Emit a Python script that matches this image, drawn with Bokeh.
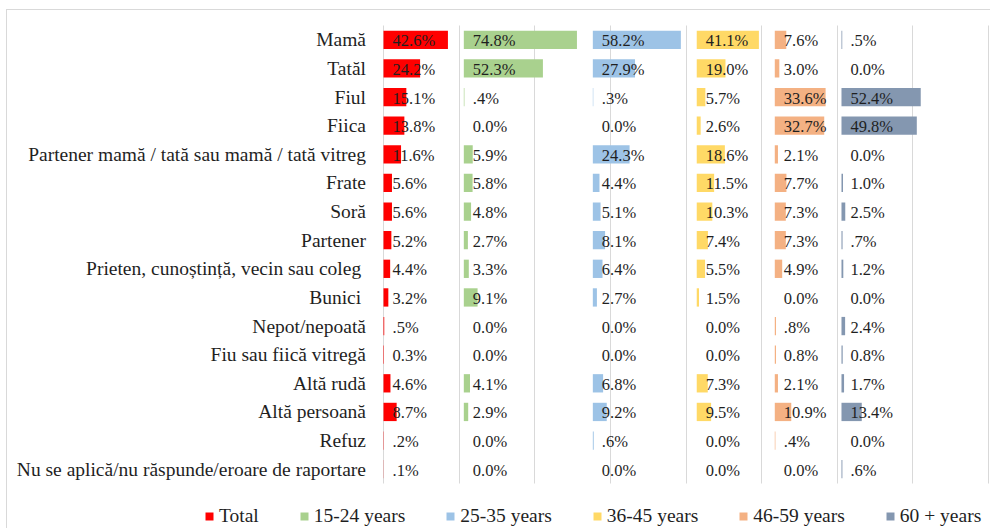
from bokeh.plotting import figure
from bokeh.models import (ColumnDataSource, Range1d, Grid,
                          SingleIntervalTicker, Legend, LegendItem)
from bokeh.core.properties import value
from bokeh.embed import file_html
from bokeh.resources import INLINE

categories = ["Mamă", "Tatăl", "Fiul", "Fiica",
              "Partener mamă / tată sau mamă / tată vitreg", "Frate", "Soră",
              "Partener", "Prieten, cunoștință,  vecin sau coleg", "Bunici ",
              "Nepot/nepoată", "Fiu sau fiică vitregă", "Altă rudă",
              "Altă persoană", "Refuz",
              "Nu se aplică/nu răspunde/eroare de raportare"]

series_names = ["Total", "15-24 years", "25-35 years", "36-45 years",
                "46-59 years", "60 + years"]

total = [42.6, 24.2, 15.1, 13.8, 11.6, 5.6, 5.6, 5.2, 4.4, 3.2, 0.5, 0.3, 4.6, 8.7, 0.2, 0.1]
age_15_24 = [74.8, 52.3, 0.4, 0.0, 5.9, 5.8, 4.8, 2.7, 3.3, 9.1, 0.0, 0.0, 4.1, 2.9, 0.0, 0.0]
age_25_35 = [58.2, 27.9, 0.3, 0.0, 24.3, 4.4, 5.1, 8.1, 6.4, 2.7, 0.0, 0.0, 6.8, 9.2, 0.6, 0.0]
age_36_45 = [41.1, 19.0, 5.7, 2.6, 18.6, 11.5, 10.3, 7.4, 5.5, 1.5, 0.0, 0.0, 7.3, 9.5, 0.0, 0.0]
age_46_59 = [7.6, 3.0, 33.6, 32.7, 2.1, 7.7, 7.3, 7.3, 4.9, 0.0, 0.8, 0.8, 2.1, 10.9, 0.4, 0.0]
age_60 = [0.5, 0.0, 52.4, 49.8, 0.0, 1.0, 2.5, 0.7, 1.2, 0.0, 2.4, 0.8, 1.7, 13.4, 0.0, 0.6]

labels_total = ["42.6%", "24.2%", "15.1%", "13.8%", "11.6%", "5.6%", "5.6%", "5.2%", "4.4%", "3.2%", ".5%", "0.3%", "4.6%", "8.7%", ".2%", ".1%"]
labels_15_24 = ["74.8%", "52.3%", ".4%", "0.0%", "5.9%", "5.8%", "4.8%", "2.7%", "3.3%", "9.1%", "0.0%", "0.0%", "4.1%", "2.9%", "0.0%", "0.0%"]
labels_25_35 = ["58.2%", "27.9%", ".3%", "0.0%", "24.3%", "4.4%", "5.1%", "8.1%", "6.4%", "2.7%", "0.0%", "0.0%", "6.8%", "9.2%", ".6%", "0.0%"]
labels_36_45 = ["41.1%", "19.0%", "5.7%", "2.6%", "18.6%", "11.5%", "10.3%", "7.4%", "5.5%", "1.5%", "0.0%", "0.0%", "7.3%", "9.5%", "0.0%", "0.0%"]
labels_46_59 = ["7.6%", "3.0%", "33.6%", "32.7%", "2.1%", "7.7%", "7.3%", "7.3%", "4.9%", "0.0%", ".8%", "0.8%", "2.1%", "10.9%", ".4%", "0.0%"]
labels_60 = [".5%", "0.0%", "52.4%", "49.8%", "0.0%", "1.0%", "2.5%", ".7%", "1.2%", "0.0%", "2.4%", "0.8%", "1.7%", "13.4%", "0.0%", ".6%"]

all_values = [total, age_15_24, age_25_35, age_36_45, age_46_59, age_60]
all_labels = [labels_total, labels_15_24, labels_25_35, labels_36_45, labels_46_59, labels_60]
colors = ["#FF0000", "#A9D18E", "#9DC3E6", "#FFD966", "#F4B183", "#8497B0"]

GAP = 10.5  # spacing between panels, in axis units
FONT = "Liberation Serif"
TXT = "#1f1f1f"

n = len(categories)
rows = [n - 1 - i for i in range(n)]          # first category at the top

# The frame covers the whole canvas so that the legend strip is not clipped;
# the ranges are padded so the bars sit where the reference puts them.
W, H = 984, 519
PX_PER_UNIT_X = 605 / 400.0
PX_PER_ROW = 458 / n
x_start = -376 / PX_PER_UNIT_X
x_end = 400 + 3 / PX_PER_UNIT_X
y_top = (n - 0.5) + 15 / PX_PER_ROW
y_bot = -0.5 - 46 / PX_PER_ROW

p = figure(width=W, height=H,
           x_range=Range1d(x_start, x_end), y_range=Range1d(y_bot, y_top),
           x_axis_location=None, y_axis_location=None,
           output_backend="svg", toolbar_location=None, min_border=0)
p.styles = {"margin-left": "6px", "margin-top": "9px",
            "border-left": "1px solid #d9d9d9", "border-top": "1px solid #d9d9d9"}
p.outline_line_color = None
p.grid.grid_line_color = None
p.add_layout(Grid(dimension=0, ticker=SingleIntervalTicker(interval=50),
                  bounds=(0, 400), cross_bounds=(-0.5, n - 0.5),
                  grid_line_color="#d9d9d9", grid_line_width=1))

# category labels, right-aligned against the value axis origin
cat_src = ColumnDataSource(dict(x=[0.0] * n, y=rows, text=categories))
p.text(x="x", y="y", text="text", source=cat_src, x_offset=-17.5,
       text_font=value(FONT), text_font_size="19.5px", text_color=TXT,
       text_align="right", text_baseline="middle")

items = []
offset = 0.0
for name, vals, labs, col in zip(series_names, all_values, all_labels, colors):
    src = ColumnDataSource(dict(
        y=rows,
        left=[offset] * len(vals),
        right=[offset + v for v in vals],
        lab=labs,
    ))
    r = p.hbar(y="y", left="left", right="right", height=0.64,
               fill_color=col, line_color=None, source=src)
    p.text(x="left", y="y", text="lab", source=src, x_offset=9, y_offset=1,
           text_font=value(FONT), text_font_size="16.5px", text_color=TXT,
           text_align="left", text_baseline="middle")
    items.append(LegendItem(label=name, renderers=[r]))
    offset += max(vals) + GAP

legend = Legend(items=items, orientation="horizontal", location=(197, 2),
                glyph_width=10, glyph_height=10, label_standoff=5, spacing=40,
                padding=0, margin=0, border_line_color=None,
                background_fill_alpha=0, label_text_font=FONT,
                label_text_font_size="19.5px", label_text_color=TXT,
                label_height=20)
p.add_layout(legend, "center")

open("out.html", "w").write(file_html(p, INLINE))
